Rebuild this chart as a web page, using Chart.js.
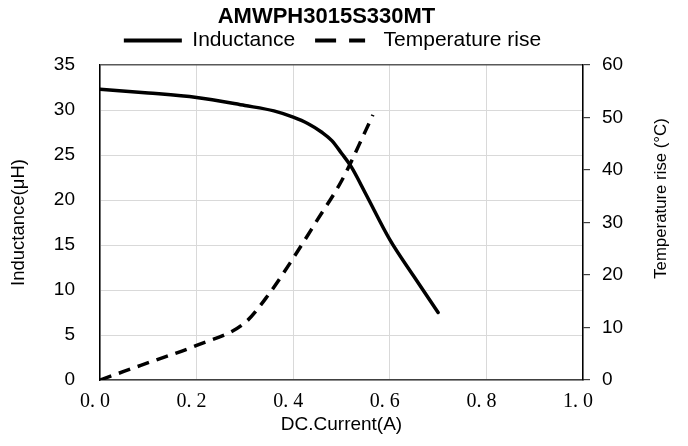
<!DOCTYPE html>
<html>
<head>
<meta charset="utf-8">
<script src="https://cdn.jsdelivr.net/npm/chart.js@4"></script>
<style>
  html, body { margin: 0; padding: 0; background: #fff; }
</style>
</head>
<body>
<canvas id="myChart" width="688" height="446"></canvas>
<script>
// chart texts
const chartTitle = "AMWPH3015S330MT";
const seriesNames = ["Inductance", "Temperature rise"];
const xTitle = "DC.Current(A)";
const yTitle = "Inductance(\u03BCH)";
const y2Title = "Temperature rise (\u00B0C)";

// Inductance curve (uH) vs DC current (A)
const currentL = [0, 0.1, 0.2, 0.3, 0.36, 0.4, 0.43, 0.46, 0.48, 0.5, 0.52, 0.55, 0.6, 0.65, 0.7];
const inductance = [32.3, 31.9, 31.4, 30.5, 29.9, 29.2, 28.5, 27.5, 26.6, 25.2, 23.7, 20.7, 15.6, 11.5, 7.5];

// Temperature rise curve (C) vs DC current (A)
const currentT = [0, 0.1, 0.2, 0.3, 0.35, 0.4, 0.45, 0.5, 0.55, 0.565];
const tempRise = [0, 3.3, 6.6, 10.9, 16.4, 23.2, 30.5, 37.9, 47.5, 50.5];

// axis ranges / ticks
const xTicks = [0, 0.2, 0.4, 0.6, 0.8, 1.0];
const yMax = 35, yStep = 5;
const y2Max = 60, y2Step = 10;

function toPoints(xs, ys) {
  return xs.map((x, i) => ({ x: x, y: ys[i] }));
}

// title on top + the right axis title (reads bottom to top, chart.js would flip it)
const extraText = {
  id: 'extraText',
  afterDraw(chart) {
    const ctx = chart.ctx;
    const area = chart.chartArea;
    ctx.save();
    ctx.fillStyle = '#000';
    ctx.textAlign = 'center';
    ctx.textBaseline = 'middle';
    ctx.font = 'bold 22px "Liberation Sans", Arial, sans-serif';
    ctx.fillText(chartTitle, (area.left + area.right) / 2 - 15, 17);
    ctx.translate(661, (area.top + area.bottom) / 2 - 24);
    ctx.rotate(-Math.PI / 2);
    ctx.font = '16.8px "Liberation Sans", Arial, sans-serif';
    ctx.fillText(y2Title, 0, 0);
    ctx.restore();
  }
};

const ctx = document.getElementById('myChart').getContext('2d');
const myChart = new Chart(ctx, {
  type: 'line',
  data: {
    datasets: [{
      label: seriesNames[0],
      data: toPoints(currentL, inductance),
      yAxisID: 'y',
      borderColor: '#000',
      borderWidth: 3.5,
      borderCapStyle: 'round',
      pointRadius: 0,
      fill: false,
      cubicInterpolationMode: 'monotone'
    }, {
      label: seriesNames[1],
      data: toPoints(currentT, tempRise),
      yAxisID: 'y2',
      borderColor: '#000',
      borderWidth: 3.5,
      borderDash: [12, 8],
      pointRadius: 0,
      fill: false,
      cubicInterpolationMode: 'monotone'
    }]
  },
  options: {
    responsive: false,
    animation: false,
    devicePixelRatio: 1,
    layout: { padding: { top: 0, right: 23, bottom: 0, left: 0 } },
    plugins: {
      title: { display: false },
      // empty subtitle below the legend, just a small gap above the plot
      subtitle: { display: true, text: '', weight: 500, padding: 0, font: { size: 4, lineHeight: 1 } },
      tooltip: { enabled: false },
      legend: {
        display: true,
        position: 'top',
        labels: {
          usePointStyle: true,
          pointStyle: 'line',
          pointStyleWidth: 58,
          padding: 20,
          color: '#000',
          font: { family: '"Liberation Sans", Arial, sans-serif', size: 21 },
          generateLabels: (chart) => chart.data.datasets.map((ds, i) => ({
            text: ds.label,
            fillStyle: 'transparent',
            strokeStyle: '#000',
            fontColor: '#000',
            lineWidth: 4,
            lineDash: i === 1 ? [21, 13, 16, 30] : [],
            lineCap: 'butt',
            pointStyle: 'line',
            hidden: false,
            datasetIndex: i
          }))
        }
      }
    },
    scales: {
      x: {
        type: 'linear',
        min: 0,
        max: 1,
        afterBuildTicks: (s) => { s.ticks = xTicks.map(v => ({ value: v })); },
        afterFit: (s) => { s.height = 66; },
        grid: { color: '#d9d9d9', lineWidth: 1, drawTicks: false },
        border: { color: '#404040', width: 1.5 },
        ticks: {
          padding: 10,
          labelOffset: -5,
          maxRotation: 0,
          color: '#000',
          font: { family: '"Liberation Serif", "DejaVu Serif", serif', size: 20 },
          callback: (v) => Number(v).toFixed(1).replace('.', '. ')
        },
        title: {
          display: true,
          text: xTitle,
          color: '#000',
          font: { family: '"Liberation Sans", Arial, sans-serif', size: 19 },
          padding: { top: 0, bottom: 10 }
        }
      },
      y: {
        position: 'left',
        min: 0,
        max: yMax,
        ticks: {
          stepSize: yStep,
          padding: 25,
          color: '#000',
          font: { family: '"Liberation Sans", Arial, sans-serif', size: 19 }
        },
        afterFit: (s) => { s.width = 100; s.paddingTop = 65; },
        grid: {
          color: (c) => (c.tick && c.tick.value === yMax) ? '#595959' : '#d9d9d9',
          lineWidth: (c) => (c.tick && c.tick.value === yMax) ? 1.5 : 1,
          drawTicks: false
        },
        border: { color: '#000', width: 1.5 },
        title: {
          display: true,
          text: yTitle,
          color: '#000',
          font: { family: '"Liberation Sans", Arial, sans-serif', size: 18.5 },
          padding: { top: 8, bottom: 0 }
        }
      },
      y2: {
        position: 'right',
        min: 0,
        max: y2Max,
        ticks: {
          stepSize: y2Step,
          padding: 12,
          color: '#000',
          font: { family: '"Liberation Sans", Arial, sans-serif', size: 19 }
        },
        afterFit: (s) => { s.width = 82; },
        grid: { drawOnChartArea: false, drawTicks: true, tickLength: 7, color: '#404040', lineWidth: 1.2 },
        border: { color: '#000', width: 1.5 },
        title: { display: false }
      }
    }
  },
  plugins: [extraText]
});
</script>
</body>
</html>
